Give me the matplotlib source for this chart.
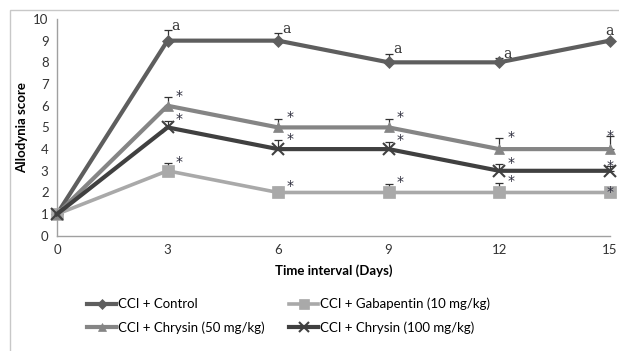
import numpy as np
import matplotlib.pyplot as plt
from matplotlib.patches import Rectangle

plt.rcParams['font.family'] = ['Lato', 'DejaVu Sans']

days = [0, 3, 6, 9, 12, 15]

control = [1, 9, 9, 8, 8, 9]
control_err = [0, 0.5, 0.35, 0.4, 0.2, 0.05]
gabapentin = [1, 3, 2, 2, 2, 2]
gabapentin_err = [0, 0.35, 0.25, 0.4, 0.45, 0]
chrysin50 = [1, 6, 5, 5, 4, 4]
chrysin50_err = [0, 0.4, 0.4, 0.4, 0.5, 0.6]
chrysin100 = [1, 5, 4, 4, 3, 3]
chrysin100_err = [0, 0.3, 0.4, 0.35, 0.3, 0.2]

labels = ['CCI + Control', 'CCI + Gabapentin (10 mg/kg)',
          'CCI + Chrysin (50 mg/kg)', 'CCI + Chrysin (100 mg/kg)']
marks = ['a', '*', '*', '*']

series = [control, gabapentin, chrysin50, chrysin100]
errors = [control_err, gabapentin_err, chrysin50_err, chrysin100_err]
colors = ['#5e5e5e', '#a9a9a9', '#858585', '#404040']
markers = ['D', 's', '^', 'x']
msizes = [6, 9, 7, 9]
lwidths = [3, 2.6, 3, 3]

fig = plt.figure(figsize=(6.19, 3.51), dpi=100)
ax = fig.add_axes([0.092, 0.328, 0.893, 0.618])

# chart area frame
fig.patches.append(Rectangle((10 / 619, -0.1), 1.0, 1 - 10 / 351 + 0.1,
                             transform=fig.transFigure, fill=False,
                             edgecolor='#c8c8c8', lw=1))

handles = []
for i in range(len(series)):
    y = np.array(series[i])
    err = np.array(errors[i])
    ax.errorbar(days, y, yerr=[np.zeros_like(err), err], fmt='none',
                ecolor='#333333', elinewidth=0.9, capsize=3, capthick=0.9,
                zorder=2, clip_on=False)
    h, = ax.plot(days, y, color=colors[i], lw=lwidths[i], marker=markers[i],
                 ms=msizes[i], mew=1.5 if markers[i] == 'x' else 0.5,
                 mec=colors[i], zorder=3, clip_on=False, label=labels[i])
    handles.append(h)
    for d, v, e in zip(days[1:], y[1:], err[1:]):
        last = d == days[-1]
        if marks[i] == 'a':
            off = (0, 1) if last else (3, -2)
            ax.annotate('a', (d, v + e), xytext=off, textcoords='offset points',
                        ha='center' if last else 'left', va='bottom',
                        fontsize=10, family='DejaVu Serif', color='#333333',
                        zorder=4)
        else:
            off = (0, -5) if last else (6, -4)
            ax.annotate('*', (d, v + e), xytext=off, textcoords='offset points',
                        ha='center' if last else 'left', va='bottom',
                        fontsize=10, family='DejaVu Sans', color='#2a2a3a',
                        zorder=4)

ax.set_xlim(0, 15)
ax.set_ylim(0, 10)
ax.set_xticks(days)
ax.set_yticks(range(0, 11))
ax.tick_params(length=0, labelsize=9.5, colors='#333333', pad=6)
for s in ['top', 'right']:
    ax.spines[s].set_visible(False)
for s in ['left', 'bottom']:
    ax.spines[s].set_color('#a0a0a0')
    ax.spines[s].set_linewidth(1)

ax.set_ylabel('Allodynia score', fontsize=9.5, fontweight='bold', labelpad=4)
ax.set_xlabel('Time interval (Days)', fontsize=9.5, fontweight='bold', labelpad=6)

# legend fills column-wise, so order the handles row by row
order = [0, 2, 1, 3]
fig.legend(handles=[handles[k] for k in order], loc='upper left',
           bbox_to_anchor=(0.122, 0.185), ncol=2, frameon=False, fontsize=9.5,
           handlelength=2.2, handletextpad=0.1, columnspacing=1.9,
           labelspacing=0.8, markerscale=0.8)

fig.savefig('out.png', dpi=100)
